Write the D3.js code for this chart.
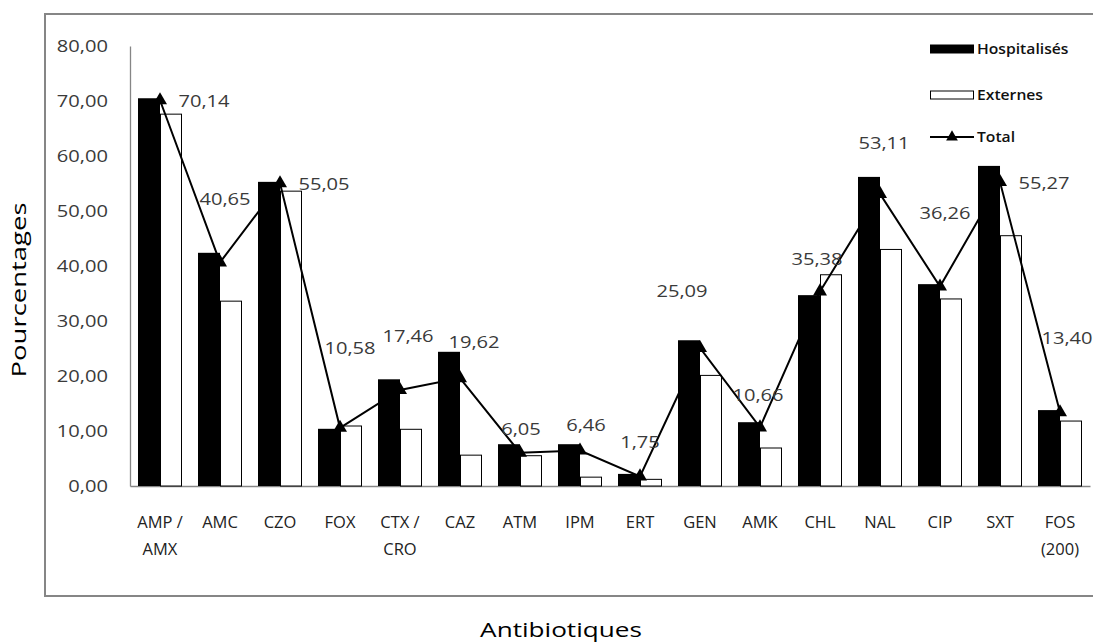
<!DOCTYPE html>
<html>
<head>
<meta charset="utf-8">
<script src="https://cdn.jsdelivr.net/npm/d3@7"></script>
<style>
  html, body { margin: 0; padding: 0; background: #fff; }
  svg { display: block; }
</style>
</head>
<body>
<svg id="chart" width="1093" height="643"></svg>
<script>
// Resistance rates (%) by antibiotic, inpatients vs outpatients, with overall total
const categories = ["AMP / AMX", "AMC", "CZO", "FOX", "CTX / CRO", "CAZ", "ATM", "IPM",
                    "ERT", "GEN", "AMK", "CHL", "NAL", "CIP", "SXT", "FOS (200)"];
const hospitalises = [70.5, 42.4, 55.3, 10.4, 19.4, 24.4, 7.6, 7.6, 2.2, 26.5, 11.6, 34.7, 56.2, 36.7, 58.2, 13.8];
const externes     = [67.7, 33.7, 53.7, 11.0, 10.4, 5.7, 5.6, 1.7, 1.3, 20.2, 7.0, 38.5, 43.1, 34.1, 45.6, 11.9];
const total        = [70.14, 40.65, 55.05, 10.58, 17.46, 19.62, 6.05, 6.46, 1.75, 25.09, 10.66, 35.38, 53.11, 36.26, 55.27, 13.40];
const yTicks = [0, 10, 20, 30, 40, 50, 60, 70, 80];
const seriesNames = ["Hospitalisés", "Externes", "Total"];

// Hand-placed offsets (px) of each total label relative to its marker
const labelNudge = [[44, 1], [5, -63], [44, 1], [10, -80], [8, -54], [14, -36], [1, -24], [6, -25],
                    [0, -34], [-18, -57], [-2, -32], [-3, -32], [4, -51], [5, -74], [44, 1], [7, -74]];

const svg = d3.select("#chart");
const FONT = "'Open Sans', sans-serif";
const TEXT = "#3a3a3a";
const AXIS = "#868686";

const locale = d3.formatLocale({ decimal: ",", thousands: " ", grouping: [3], currency: ["", " €"] });
const fmt = locale.format(".2f");

// Outer chart frame (continues past the right edge)
svg.append("rect")
  .attr("x", 45).attr("y", 14).attr("width", 1070).attr("height", 582)
  .attr("fill", "none").attr("stroke", AXIS).attr("stroke-width", 2);

const x0 = d3.scaleBand().domain(categories).range([130, 1090]).paddingInner(0.2667).paddingOuter(0.1333);
const x1 = d3.scaleBand().domain(["h", "e"]).range([0, x0.bandwidth()]);
const y = d3.scaleLinear().domain([0, 80]).range([486, 46]);

// Y axis
const numStretch = 1.22;
const yAxis = svg.append("g").attr("transform", "translate(130,0)")
  .call(d3.axisLeft(y).tickValues(yTicks).tickFormat(fmt).tickSize(0).tickSizeOuter(0));
yAxis.select(".domain").attr("stroke", AXIS).attr("stroke-width", 1.3);
yAxis.selectAll("text")
  .attr("x", -22 / numStretch)
  .attr("transform", `scale(${numStretch},1)`)
  .attr("fill", TEXT).style("font-family", FONT).style("font-size", "16.5px");

// X axis with wrapped category labels
const xAxis = svg.append("g").attr("transform", "translate(0,486)")
  .call(d3.axisBottom(x0).tickSize(0).tickSizeOuter(0).tickFormat(""));
xAxis.select(".domain").attr("stroke", AXIS).attr("stroke-width", 1.3);
function wrapLabel(s) {
  if (s.includes(" / ")) { const p = s.split(" / "); return [p[0] + " /", p[1]]; }
  if (s.includes(" (")) { const i = s.indexOf(" ("); return [s.slice(0, i), s.slice(i + 1)]; }
  return [s];
}
xAxis.selectAll(".tick").each(function (d) {
  const t = d3.select(this).select("text").text(null)
    .attr("y", 0).attr("dy", null)
    .attr("fill", "#222").style("font-family", FONT).style("font-size", "16.5px");
  wrapLabel(d).forEach((line, i) => {
    t.append("tspan").attr("x", 0).attr("y", 42 + i * 27).text(line);
  });
});

// Bars
const groups = svg.append("g").selectAll("g").data(categories).join("g")
  .attr("transform", d => `translate(${x0(d)},0)`);
groups.append("rect")
  .attr("x", x1("h")).attr("width", x1.bandwidth())
  .attr("y", (d, i) => y(hospitalises[i]))
  .attr("height", (d, i) => y(0) - y(hospitalises[i]))
  .attr("fill", "#000");
groups.append("rect")
  .attr("x", x1("e") + 0.5).attr("width", x1.bandwidth() - 1)
  .attr("y", (d, i) => y(externes[i]) + 0.5)
  .attr("height", (d, i) => Math.max(0, y(0) - y(externes[i]) - 0.5))
  .attr("fill", "#fff").attr("stroke", "#000").attr("stroke-width", 1);

// Total line with triangle markers
const cx = c => x0(c) + x0.bandwidth() / 2;
const line = d3.line().x((d, i) => cx(categories[i])).y(d => y(d));
svg.append("path").datum(total).attr("d", line)
  .attr("fill", "none").attr("stroke", "#000").attr("stroke-width", 2);
const tri = d3.symbol().type(d3.symbolTriangle).size(85);
svg.append("g").selectAll("path").data(total).join("path")
  .attr("d", tri)
  .attr("transform", (d, i) => `translate(${cx(categories[i])},${y(d)})`)
  .attr("fill", "#000");

// Total value labels
svg.append("g").selectAll("g").data(total).join("g")
  .attr("transform", (d, i) => `translate(${cx(categories[i]) + labelNudge[i][0]},${y(d) + labelNudge[i][1]}) scale(${numStretch},1)`)
  .append("text")
  .attr("text-anchor", "middle").attr("dy", "0.36em")
  .attr("fill", TEXT).style("font-family", FONT).style("font-size", "16.5px")
  .text(d => fmt(d));

// Legend
const legend = svg.append("g").attr("transform", "translate(930,0)");
const legY = [49, 95, 137];
legend.append("rect").attr("x", 0).attr("y", legY[0] - 4.5).attr("width", 44).attr("height", 9).attr("fill", "#000");
legend.append("rect").attr("x", 0.5).attr("y", legY[1] - 4).attr("width", 43).attr("height", 8)
  .attr("fill", "#fff").attr("stroke", "#000").attr("stroke-width", 1);
legend.append("line").attr("x1", 0).attr("x2", 44).attr("y1", legY[2]).attr("y2", legY[2])
  .attr("stroke", "#000").attr("stroke-width", 2);
legend.append("path").attr("d", d3.symbol().type(d3.symbolTriangle).size(60))
  .attr("transform", `translate(22,${legY[2]})`).attr("fill", "#000");
seriesNames.forEach((name, i) => {
  legend.append("g").attr("transform", `translate(47,${legY[i]}) scale(1.12,1)`)
    .append("text").attr("dy", "0.36em")
    .attr("fill", "#111").style("font-family", FONT).style("font-size", "14px").style("font-weight", 600)
    .text(name);
});

// Axis titles
const titleStretch = 1.34;
svg.append("g").attr("transform", `translate(19,290) rotate(-90) scale(${titleStretch},1)`)
  .append("text").attr("text-anchor", "middle").attr("dy", "0.36em")
  .attr("fill", "#000").style("font-family", FONT).style("font-size", "20.5px")
  .text("Pourcentages");
svg.append("g").attr("transform", `translate(561,637) scale(${titleStretch},1)`)
  .append("text").attr("text-anchor", "middle")
  .attr("fill", "#000").style("font-family", FONT).style("font-size", "19.5px")
  .text("Antibiotiques");
</script>
</body>
</html>
